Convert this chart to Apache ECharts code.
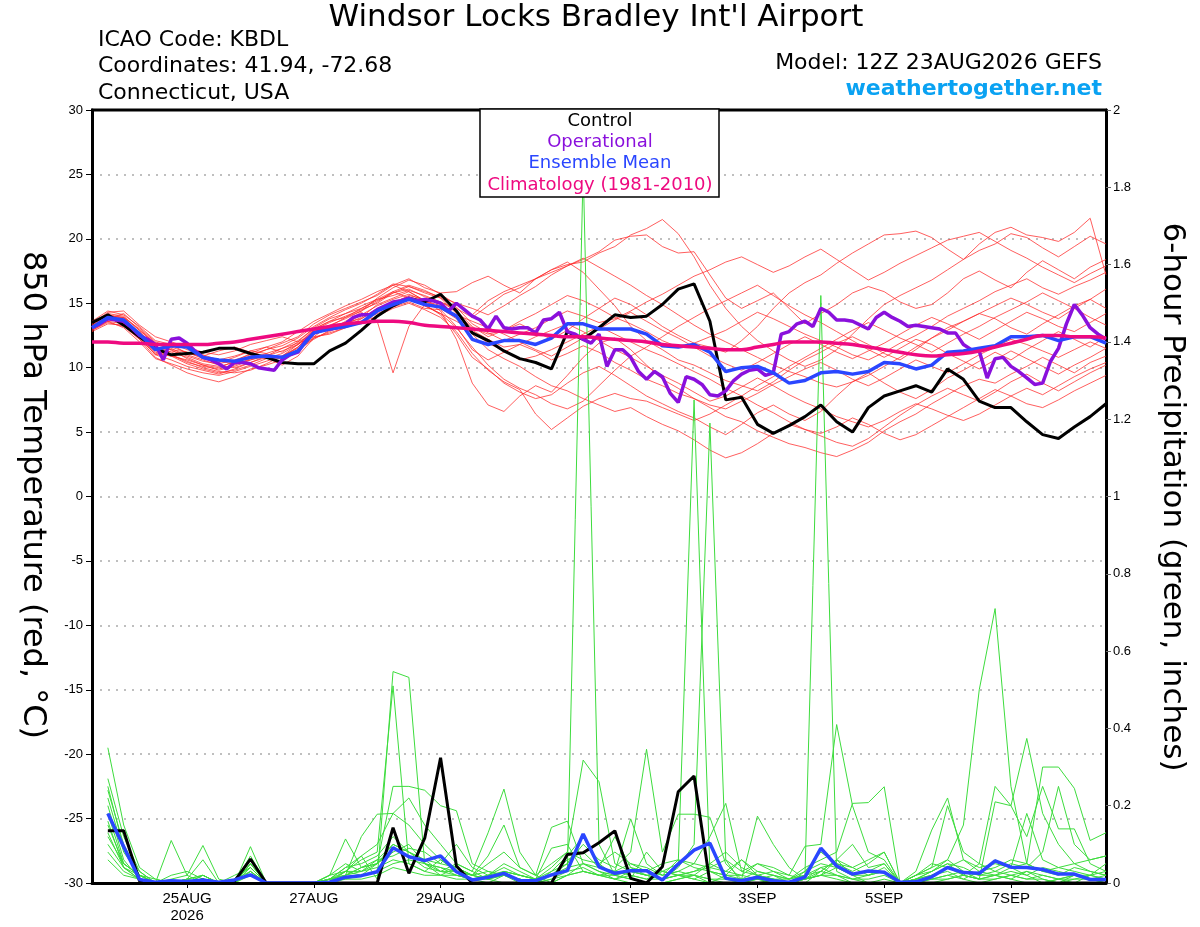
<!DOCTYPE html>
<html><head><meta charset="utf-8">
<script src="https://cdn.jsdelivr.net/npm/echarts@6/dist/echarts.min.js"></script>
<style>html,body{margin:0;padding:0;background:#fff}#c{width:1200px;height:927px}</style>
</head><body><div id="c"></div>
<script>
// ---- time axis (hours after 12Z 23AUG2026) ----
const tickHours = [36, 84, 132, 204, 252, 300, 348];
const tickLabels = ['25AUG\n2026', '27AUG', '29AUG', '1SEP', '3SEP', '5SEP', '7SEP'];
const tempTicks = [-30, -25, -20, -15, -10, -5, 0, 5, 10, 15, 20, 25, 30];
const precipTicks = [0, 0.2, 0.4, 0.6, 0.8, 1, 1.2, 1.4, 1.6, 1.8, 2];

// ---- 850 hPa temperature, 6-hourly (65 values) ----
const controlTemp = [13.5,14.1,13.3,12.4,11.5,11.0,11.1,11.2,11.5,11.5,
11.1,10.8,10.4,10.3,10.3,11.3,11.9,12.9,14.0,14.8,
15.4,15.1,15.7,14.4,12.7,12.1,11.3,10.7,10.4,9.9,
12.8,12.2,13.1,14.1,13.9,14.0,14.9,16.1,16.5,13.6,
7.5,7.7,5.6,4.9,5.5,6.2,7.1,5.8,5.0,6.9,
7.8,8.2,8.6,8.1,9.9,9.1,7.4,6.9,6.9,5.8,
4.8,4.5,5.4,6.2,7.2];
const meanTemp = [13.1,13.9,13.7,12.6,11.4,11.7,11.6,10.8,10.6,10.5,
10.8,10.9,10.8,11.3,12.7,13.0,13.2,13.5,14.4,14.9,
15.3,14.9,14.7,14.0,12.2,11.8,12.1,12.1,11.8,12.3,
13.4,13.4,13.0,13.0,13.0,12.6,11.7,11.6,11.8,11.2,
9.7,10.0,10.1,9.6,8.8,9.0,9.6,9.7,9.5,9.7,
10.4,10.3,9.9,10.2,11.2,11.3,11.5,11.7,12.4,12.4,
12.5,12.1,12.4,12.4,11.9];
const climoTemp = [12.0,12.0,11.9,11.9,11.8,11.8,11.8,11.8,11.9,12.0,
12.2,12.4,12.6,12.8,13.0,13.2,13.4,13.5,13.6,13.6,
13.5,13.3,13.2,13.1,13.0,12.9,12.8,12.7,12.6,12.5,
12.4,12.4,12.3,12.2,12.1,12.0,11.8,11.7,11.6,11.5,
11.4,11.4,11.6,11.8,12.0,12.0,12.0,11.9,11.8,11.6,
11.4,11.2,11.0,10.9,11.0,11.1,11.3,11.6,11.9,12.2,
12.5,12.5,12.4,12.4,12.3];
// operational run, 3-hourly (129 values)
const operTemp = [13.1,13.4,13.8,13.7,13.6,13.1,12.5,12.2,11.8,10.6,
12.2,12.3,11.9,11.3,10.8,10.6,10.3,9.9,10.4,10.4,
10.3,10.0,9.9,9.8,10.6,11.0,11.2,12.1,12.7,12.9,
13.0,13.1,13.4,13.9,14.1,14.1,14.5,14.8,15.1,15.2,
15.4,15.2,15.3,15.2,15.0,14.4,15.0,14.5,14.0,13.7,
13.0,14.0,13.1,13.0,13.1,13.1,12.7,13.7,13.8,14.3,
12.8,12.6,12.2,11.9,12.6,10.1,11.4,11.4,10.8,9.7,
9.1,9.7,9.3,8.0,7.3,9.3,9.1,8.7,7.9,7.8,
8.2,9.0,9.5,9.8,9.9,9.4,9.6,12.6,12.8,13.4,
13.6,13.2,14.6,14.3,13.7,13.7,13.6,13.3,13.0,13.9,
14.3,13.9,13.6,13.2,13.3,13.2,13.1,13.0,12.7,12.7,
11.8,11.4,11.3,9.2,10.7,10.8,10.1,9.7,9.2,8.7,
8.8,10.5,11.5,13.4,14.9,14.1,13.1,12.6,12.2];
// ensemble members, 6-hourly
const tempMembers = [
[13.4,14.2,14.0,12.9,11.8,11.9,11.4,11.0,10.6,10.9,11.3,11.6,11.2,12.0,13.1,13.8,14.2,14.6,15.2,15.8,16.1,15.5,15.1,14.6,13.9,14.8,15.7,16.2,16.9,17.4,17.9,18.4,19.0,19.9,20.2,20.3,19.4,18.9,19.0,17.2,15.4,14.6,15.2,15.8,14.6,13.4,14.2,14.9,15.8,16.3,15.9,15.1,14.6,14.9,15.8,16.9,17.5,16.8,16.2,17.4,18.3,17.6,16.9,17.8,18.4],
[13.0,13.7,13.9,12.5,11.0,10.6,10.1,9.8,9.5,9.9,10.4,10.8,10.2,10.9,12.3,12.8,13.4,13.9,14.9,15.4,15.9,15.2,14.4,12.2,8.8,7.1,6.6,7.8,8.6,8.1,9.4,10.8,11.9,12.3,11.4,10.2,9.1,8.4,7.6,6.9,6.2,5.8,5.1,4.6,4.1,3.8,3.4,3.1,3.6,4.2,5.1,5.8,6.4,7.2,7.9,8.6,9.1,8.8,9.5,10.1,10.8,10.2,9.6,10.4,10.9],
[13.6,14.4,14.1,13.2,12.1,11.8,11.1,10.9,11.3,11.6,11.2,10.7,10.9,11.8,13.0,13.6,13.9,14.4,15.1,15.9,16.4,16.0,15.4,14.2,13.1,12.6,12.9,13.4,12.8,12.2,12.9,13.8,14.6,15.4,14.9,14.1,13.2,12.5,11.9,11.6,11.2,12.1,13.2,14.6,15.8,16.6,17.2,18.1,18.9,19.6,20.3,20.4,20.6,20.1,19.2,18.4,19.6,20.5,20.9,20.3,20.1,19.8,20.5,21.6,17.2],
[12.9,13.5,13.2,12.2,10.8,10.2,9.6,9.2,8.9,9.3,9.9,10.2,10.6,11.4,12.2,12.9,13.6,14.3,13.6,9.6,13.2,14.9,14.1,12.6,10.8,9.9,8.8,8.1,7.6,7.9,8.8,9.6,10.1,9.4,8.6,7.8,7.2,6.6,6.1,5.4,4.8,5.6,6.5,7.1,6.4,5.9,6.6,7.8,8.9,9.6,8.8,8.1,7.6,8.3,9.2,9.8,10.5,11.2,10.6,11.4,12.1,12.8,12.2,11.6,12.4],
[13.2,14.0,13.6,12.8,11.6,11.2,10.8,10.3,10.1,10.4,10.9,11.4,11.9,12.4,13.4,14.1,14.6,15.1,15.6,16.4,16.9,16.2,15.8,15.9,16.6,17.1,16.4,15.8,16.9,17.6,18.2,17.4,16.1,14.8,13.2,12.1,11.4,10.6,10.2,9.6,9.0,8.6,8.2,8.9,9.8,10.6,11.2,11.9,12.4,11.8,11.1,10.6,11.4,12.3,13.1,13.6,14.2,13.8,13.1,12.6,13.4,14.1,14.8,15.3,14.6],
[13.5,14.1,13.8,12.7,11.4,11.0,10.5,10.0,9.7,9.6,9.8,10.3,10.9,11.6,12.8,13.2,13.5,13.8,14.6,15.1,15.5,14.8,14.2,13.1,11.6,10.2,9.1,8.4,7.9,7.2,6.8,7.4,8.6,9.8,10.9,11.6,12.4,13.2,13.9,14.6,15.2,15.8,16.4,15.6,14.8,14.1,13.5,12.8,12.1,11.4,10.8,11.5,12.2,11.8,11.1,10.5,9.9,10.6,11.3,10.7,10.1,9.5,10.2,10.8,11.5],
[13.1,13.8,14.2,13.1,12.0,11.6,11.2,10.7,10.4,10.8,11.3,11.1,10.6,11.2,12.4,13.3,13.8,14.4,15.4,16.2,16.8,16.4,15.7,14.9,14.1,15.2,15.9,16.4,16.9,17.6,18.0,18.2,18.9,19.4,20.3,20.8,21.5,20.4,18.6,16.4,14.6,13.2,12.1,11.3,10.6,10.1,10.6,11.4,12.6,13.8,14.9,15.6,16.2,16.8,17.6,18.4,19.1,19.6,20.4,20.1,19.3,18.6,19.4,20.2,19.6],
[13.3,13.9,13.5,12.4,11.2,10.9,10.6,10.2,9.8,10.1,10.6,10.9,11.3,11.8,12.6,13.0,13.4,14.1,14.8,15.3,15.7,15.2,14.8,14.0,12.6,11.4,10.7,10.1,9.3,8.6,8.2,7.6,7.1,6.6,6.9,6.2,5.6,5.1,4.4,3.6,3.0,3.4,4.1,4.9,5.6,5.2,4.7,4.2,3.9,4.5,5.4,6.3,7.1,7.8,8.4,7.9,7.4,8.1,8.9,9.5,8.8,8.2,8.9,9.6,10.2],
[13.0,13.6,13.4,12.3,11.0,11.3,11.0,10.6,10.2,10.0,10.4,10.9,11.5,12.1,13.0,13.6,14.2,14.8,15.3,15.6,16.0,15.6,15.1,14.4,13.2,12.4,12.9,13.6,14.2,14.9,15.6,15.2,14.6,13.9,13.4,12.8,12.1,11.6,11.9,12.4,12.9,13.6,14.3,13.8,13.2,12.6,12.1,11.6,11.0,10.6,11.2,11.9,12.5,13.2,14.0,14.6,15.2,15.9,16.4,16.9,16.2,15.7,16.3,16.8,17.4],
[13.4,14.3,14.4,13.3,12.4,12.0,11.6,11.2,11.0,11.3,11.8,12.1,12.4,12.0,12.6,13.2,13.9,14.6,15.3,15.9,15.4,14.8,14.2,13.6,12.9,12.2,11.6,11.8,12.4,12.9,13.4,12.8,12.1,11.4,10.8,10.1,9.4,8.8,8.1,7.4,7.8,8.5,9.2,8.6,7.9,7.3,6.8,6.2,5.8,5.4,5.9,6.6,7.2,6.8,6.3,5.9,6.4,7.1,7.8,8.4,7.9,8.6,9.3,9.9,10.4],
[13.2,13.9,13.7,12.6,11.5,11.4,11.2,10.8,10.5,10.3,10.6,11.0,10.8,11.6,12.9,13.5,14.0,14.5,15.0,15.8,16.3,15.9,15.5,15.0,14.6,14.1,14.8,15.6,16.3,17.2,17.9,18.5,17.8,17.1,16.4,15.6,14.9,14.1,13.3,12.6,12.0,11.4,10.8,10.2,9.7,9.3,8.8,8.5,8.9,9.4,10.1,10.8,11.6,12.3,12.9,13.6,14.2,14.8,15.4,14.9,14.3,13.8,14.6,15.3,16.1],
[12.8,13.4,13.3,12.2,11.1,10.9,10.3,9.9,9.6,9.8,10.2,10.7,11.1,11.8,12.9,13.1,13.2,13.6,14.2,14.7,15.1,14.6,14.5,13.2,11.4,10.6,11.2,11.8,11.3,10.6,11.1,11.7,11.2,10.4,9.8,9.1,8.6,8.0,7.6,7.1,6.8,7.4,8.0,8.7,9.3,9.9,10.4,9.8,9.1,8.6,9.2,9.9,10.6,10.1,9.6,10.3,11.0,11.6,12.2,11.8,11.3,10.8,11.4,12.0,11.5],
[13.5,14.0,13.9,12.9,11.9,11.5,10.9,10.5,10.3,10.6,11.0,11.4,11.7,12.3,13.2,13.9,14.5,15.0,15.7,16.5,16.3,15.8,15.4,14.7,13.4,12.7,12.1,12.6,13.1,13.8,14.4,14.0,13.5,13.8,14.4,15.1,15.7,16.4,17.1,17.6,18.2,18.6,18.0,17.4,17.9,18.6,19.2,18.4,17.6,16.8,17.4,18.1,18.7,19.3,19.9,20.2,20.5,19.8,19.1,18.5,17.8,17.2,16.6,17.3,17.9],
[13.1,13.8,13.6,12.6,11.3,11.0,10.4,10.1,9.9,10.2,10.7,11.1,11.5,11.9,12.4,12.6,13.1,13.8,14.5,15.0,15.6,15.3,14.6,13.8,12.8,11.9,11.3,10.6,10.9,11.4,12.0,12.6,13.2,12.6,12.0,11.4,10.9,10.3,9.7,9.1,8.4,7.8,7.1,6.5,5.8,5.2,4.9,5.4,6.1,5.6,4.9,4.4,4.8,5.5,6.2,6.9,7.6,8.3,7.8,7.2,6.9,7.5,8.2,8.8,9.4],
[13.3,14.1,13.9,13.0,11.9,11.4,10.7,10.2,10.0,10.5,11.1,11.6,12.0,12.8,13.6,14.2,14.8,15.3,15.9,16.4,15.9,15.2,14.6,14.1,13.6,13.1,12.6,12.0,11.4,10.9,11.6,12.3,13.0,13.7,14.3,13.6,12.9,12.3,11.6,10.9,10.3,9.8,10.4,11.1,11.8,12.4,11.8,11.2,10.7,11.3,11.9,12.6,13.3,13.9,13.4,12.8,12.2,12.9,13.6,14.3,13.8,13.2,12.8,13.5,14.2],
[12.9,13.6,13.1,12.0,10.7,10.3,9.9,9.6,9.4,9.7,10.1,10.5,10.9,11.5,12.3,12.7,13.1,13.5,14.0,14.6,15.0,14.5,13.9,12.8,11.1,9.8,8.9,8.3,6.4,5.2,6.1,7.0,7.6,8.0,7.6,7.4,6.9,6.4,5.9,6.4,7.1,7.8,8.6,9.3,10.1,10.8,11.5,12.2,12.9,13.5,12.9,12.3,11.8,11.2,11.9,12.6,13.2,13.9,14.5,15.1,15.8,15.2,14.6,13.9,13.3]
];

// ---- 6-hour precipitation (inches), steps 1..64 ----
const controlPrecip = [0.135,0.135,0.005,0,0,0,0.008,0,
0.005,0.062,0,0,0,0,0,0,
0,0,0.143,0.025,0.116,0.324,0.044,0,
0,0,0,0,0,0.074,0.078,0.104,
0.135,0.012,0,0.042,0.236,0.277,0,0,
0,0,0,0,0,0,0,0,
0,0,0,0,0,0,0,0,
0,0,0,0,0,0,0,0];
const meanPrecip = [0.18,0.094,0.009,0.002,0.006,0.004,0.008,0.002,
0.008,0.021,0,0,0,0,0.002,0.015,
0.019,0.029,0.091,0.068,0.058,0.07,0.029,0.008,
0.015,0.025,0.006,0.006,0.021,0.032,0.127,0.042,
0.025,0.032,0.032,0.008,0.049,0.085,0.103,0.012,
0.006,0.015,0.006,0.002,0.015,0.09,0.044,0.023,
0.031,0.028,0.002,0.003,0.016,0.04,0.027,0.025,
0.057,0.041,0.04,0.035,0.023,0.023,0.009,0.009];
const precipMembers = [
[0.35,0.15,0.04,0.01,0,0,0.02,0, 0,0.03,0,0,0,0,0.01,0.02, 0.04,0.05,0.10,0.08,0.05,0.03,0.02,0.01, 0,0.02,0.01,0,0.01,0.03,1.85,0.10, 0.02,0.01,0,0,0.01,0.02,0.01,0, 0,0.01,0,0,0.01,0.02,0.01,0, 0,0,0,0,0.01,0.02,0.01,0.03, 0.02,0.01,0,0,0.01,0.02,0.01,0],
[0.27,0.12,0.03,0,0,0.01,0,0, 0.01,0.04,0,0,0,0,0,0.03, 0.07,0.01,0.547,0.532,0.05,0.02,0.04,0.02, 0.01,0,0,0,0,0.02,0.05,0.03, 0.01,0,0,0,0.01,0.02,0,0, 0,0,0.01,0,0,0.03,0.06,0.02, 0,0,0,0,0,0.01,0.02,0.05, 0.03,0.02,0.01,0.01,0,0.02,0.01,0.01],
[0.24,0.10,0.02,0,0,0,0.01,0, 0,0.05,0,0,0,0,0.02,0.114, 0.04,0.05,0.25,0.25,0.24,0.20,0.187,0.05, 0.03,0.02,0,0,0.02,0.05,0.12,0.04, 0.03,0.02,0.01,0.03,0.05,1.25,0.03,0.01, 0,0.02,0.01,0,0.02,0.04,0.02,0.01, 0,0,0,0.01,0.03,0.05,0.02,0.01, 0.02,0.04,0.02,0,0.01,0.02,0.01,0],
[0.22,0.08,0.02,0,0,0,0,0, 0,0.06,0,0,0,0,0.01,0.02, 0.12,0.178,0.18,0.22,0.15,0.10,0.05,0.03, 0.13,0.243,0.08,0.02,0,0.02,0.03,0.02, 0.01,0.03,0.02,0.01,0.04,0.10,1.19,0.06, 0,0.01,0,0,0.01,0.03,0.02,0, 0,0.01,0,0,0.02,0.03,0.01,0, 0.01,0.02,0.03,0.01,0,0.01,0.02,0.01],
[0.20,0.06,0.01,0,0.11,0.02,0,0, 0.01,0.03,0,0,0,0,0.01,0.04, 0.07,0.10,0.18,0.15,0.10,0.06,0.03,0.02, 0.07,0.15,0.04,0.02,0.144,0.16,0.05,0.03, 0.02,0.01,0.08,0.03,0.02,0.01,0,0.02, 0.01,0.03,0.02,0.01,0.02,1.52,0.03,0.01, 0.02,0.04,0,0.01,0.02,0.04,0.03,0.01, 0.02,0.01,0.03,0.02,0.01,0,0.02,0.01],
[0.18,0.05,0.02,0,0.01,0.02,0.097,0.01, 0,0.07,0,0,0,0,0,0.02, 0.04,0.06,0.10,0.08,0.06,0.05,0.10,0.04, 0.02,0.05,0.03,0.01,0.09,0.10,0.03,0.02, 0.03,0.166,0.05,0.02,0.03,0.02,0.05,0.03, 0.06,0.02,0.01,0,0.03,0.05,0.04,0.02, 0.03,0.05,0,0.01,0.03,0.06,0.15,0.50, 0.71,0.25,0.05,0.03,0.02,0.04,0.03,0.02],
[0.16,0.04,0.01,0,0,0.01,0.06,0, 0,0.094,0,0,0,0,0.005,0.03, 0.03,0.05,0.08,0.10,0.05,0.04,0.03,0.02, 0.01,0.03,0.02,0.01,0.03,0.05,0.10,0.06, 0.04,0.08,0.346,0.08,0.178,0.178,0.17,0.05, 0.01,0.173,0.10,0.04,0.01,0.02,0.06,0.04, 0.02,0.03,0,0.02,0.05,0.04,0.02,0.01, 0.21,0.20,0.374,0.18,0.10,0.05,0.03,0.02],
[0.15,0.05,0.02,0.01,0,0,0.02,0, 0,0.05,0,0,0,0,0.01,0.04, 0.05,0.07,0.12,0.08,0.06,0.03,0.05,0.03, 0.01,0.02,0.01,0,0.03,0.07,0.12,0.05, 0.08,0.05,0.03,0.02,0.06,0.05,0.12,0.206, 0.03,0.05,0.04,0.02,0.095,0.10,0.41,0.20, 0.08,0.06,0,0.02,0.04,0.20,0.08,0.05, 0.25,0.20,0.12,0.25,0.14,0.14,0.05,0.03],
[0.13,0.04,0.01,0,0,0.01,0.02,0, 0.02,0.04,0,0,0,0,0.02,0.05, 0.03,0.04,0.06,0.05,0.03,0.02,0.02,0.01, 0.02,0.04,0.02,0.01,0.04,0.08,0.318,0.262, 0.05,0.03,0.02,0.01,0.02,0.03,0.05,0.08, 0.04,0.02,0.03,0.01,0.04,0.06,0.08,0.206, 0.208,0.249,0,0.03,0.137,0.22,0.06,0.03, 0.04,0.06,0.05,0.30,0.30,0.245,0.11,0.13],
[0.12,0.05,0.02,0,0,0.01,0.02,0, 0,0.05,0,0,0,0,0.01,0.03, 0.02,0.05,0.09,0.07,0.04,0.03,0.03,0.02, 0.01,0.03,0.02,0.01,0.02,0.06,0.08,0.04, 0.03,0.05,0.04,0.02,0.03,0.05,0.04,0.03, 0.02,0.05,0.03,0.02,0.01,0.04,0.05,0.03, 0.05,0.08,0,0.02,0.04,0.06,0.03,0.02, 0.03,0.05,0.04,0.08,0.25,0.10,0.06,0.07],
[0.10,0.04,0.02,0,0,0,0.01,0, 0,0.04,0,0,0,0,0.01,0.02, 0.03,0.06,0.07,0.09,0.08,0.05,0.04,0.02, 0.03,0.02,0.01,0,0.02,0.04,0.05,0.04, 0.12,0.04,0.02,0.01,0.02,0.03,0.04,0.06, 0.03,0.02,0.01,0.01,0.02,0.03,0.06,0.10, 0.04,0.05,0,0.01,0.02,0.04,0.06,0.04, 0.05,0.04,0.18,0.06,0.04,0.03,0.02,0.05],
[0.08,0.03,0.01,0,0,0,0.01,0, 0,0.03,0,0,0,0,0.01,0.01, 0.02,0.03,0.05,0.06,0.05,0.04,0.02,0.01, 0.02,0.03,0.02,0.01,0.02,0.03,0.04,0.02, 0.02,0.03,0.02,0.03,0.02,0.01,0.03,0.02, 0.02,0.01,0.02,0,0.01,0.02,0.04,0.02, 0.02,0.03,0,0.01,0.01,0.02,0.03,0.02, 0.02,0.03,0.02,0.04,0.03,0.02,0.02,0.03],
[0.06,0.02,0.01,0,0,0,0,0, 0,0.02,0,0,0,0,0,0.01, 0.01,0.02,0.04,0.03,0.02,0.02,0.01,0.01, 0.01,0.02,0.01,0,0.01,0.02,0.03,0.02, 0.01,0.02,0.01,0.01,0.02,0.02,0.01,0.01, 0.01,0.01,0.01,0,0.01,0.02,0.02,0.01, 0.01,0.02,0,0,0.01,0.01,0.02,0.01, 0.01,0.02,0.01,0.02,0.01,0.01,0.01,0.02],
[0.25,0.09,0.03,0,0.02,0.03,0.01,0, 0.01,0.06,0,0,0,0,0.02,0.03, 0.06,0.08,0.51,0.05,0.03,0.06,0.04,0.02, 0.05,0.08,0.04,0.02,0.05,0.08,0.06,0.05, 0.02,0.04,0.03,0.05,0.06,0.04,0.03,0.02, 0.06,0.03,0.02,0.01,0.03,0.08,0.05,0.04, 0.06,0.08,0,0.02,0.03,0.05,0.04,0.02, 0.06,0.04,0.05,0.03,0.04,0.05,0.06,0.07]
];

// ---- colours ----
const C = {red:'rgba(255,40,40,0.75)', green:'#3ddc3d', control:'#000000', oper:'#8a10dc', mean:'#2a46ff', climo:'#ee0a80', site:'#0aa2f2'};

const six = (arr, off) => arr.map((v, i) => [(i + off) * 6, v]);
const series = [];
tempMembers.forEach(m => series.push({type:'line', data: six(m, 0), yAxisIndex:0, showSymbol:false, silent:true, z:2,
  lineStyle:{color:C.red, width:1}}));
precipMembers.forEach(m => series.push({type:'line', data: six(m, 1), yAxisIndex:1, showSymbol:false, silent:true, z:3,
  lineStyle:{color:C.green, width:1}}));
series.push({type:'line', data: six(controlPrecip, 1), yAxisIndex:1, showSymbol:false, z:5, lineStyle:{color:C.control, width:3}});
series.push({type:'line', data: six(meanPrecip, 1), yAxisIndex:1, showSymbol:false, z:6, lineStyle:{color:C.mean, width:3.5}});
series.push({type:'line', data: six(controlTemp, 0), yAxisIndex:0, showSymbol:false, z:5, lineStyle:{color:C.control, width:3}});
series.push({type:'line', data: operTemp.map((v, j) => [j * 3, v]), yAxisIndex:0, showSymbol:false, z:6, lineStyle:{color:C.oper, width:3.5}});
series.push({type:'line', data: six(meanTemp, 0), yAxisIndex:0, showSymbol:false, z:7, lineStyle:{color:C.mean, width:3.5}});
series.push({type:'line', data: six(climoTemp, 0), yAxisIndex:0, showSymbol:false, smooth:true, z:8, lineStyle:{color:C.climo, width:3.5}});

const FONT = '"Liberation Sans", Arial, sans-serif';
const WIDE = '"DejaVu Sans", "Liberation Sans", sans-serif';
const chart = echarts.init(document.getElementById('c'), null, {renderer:'canvas'});
chart.setOption({
  animation:false,
  backgroundColor:'#ffffff',
  grid:{left:92, right:94, top:110, bottom:44, show:false, containLabel:false},
  xAxis:{type:'value', min:0, max:384, z:10,
    axisLine:{show:true, onZero:false, lineStyle:{color:'#000', width:3}},
    axisTick:{show:true, customValues:tickHours, length:5, lineStyle:{color:'#000', width:1}},
    axisLabel:{customValues:tickHours, formatter:v => tickLabels[tickHours.indexOf(v)] || '', color:'#000', fontFamily:FONT, fontSize:15, lineHeight:17, margin:7},
    splitLine:{show:false}},
  yAxis:[
    {type:'value', min:-30, max:30, interval:5, position:'left',
      axisLine:{show:true, onZero:false, lineStyle:{color:'#000', width:3}},
      axisTick:{show:true, length:6, lineStyle:{color:'#000', width:1}},
      axisLabel:{color:'#000', fontFamily:FONT, fontSize:13, margin:9},
      splitLine:{show:true, lineStyle:{color:'#aaaaaa', width:1.5, type:[2,6]}}},
    {type:'value', min:0, max:2, interval:0.2, position:'right',
      axisLine:{show:true, onZero:false, lineStyle:{color:'#000', width:3}},
      axisTick:{show:true, length:5, lineStyle:{color:'#666', width:1}},
      axisLabel:{color:'#000', fontFamily:FONT, fontSize:13, margin:7, formatter:v => String(+v.toFixed(1))},
      splitLine:{show:false}}
  ],
  series: series,
  graphic:[
    {type:'line', z:99, shape:{x1:91, y1:110, x2:1107, y2:110}, style:{stroke:'#000', lineWidth:3}},
    {type:'text', x:596, y:18, z:100, style:{text:"Windsor Locks Bradley Int'l Airport", font:'31px '+WIDE, fill:'#000', align:'center', verticalAlign:'middle'}},
    {type:'text', x:98, y:40, z:100, style:{text:'ICAO Code: KBDL', font:'22px '+WIDE, fill:'#000', align:'left', verticalAlign:'middle'}},
    {type:'text', x:98, y:66, z:100, style:{text:'Coordinates: 41.94, -72.68', font:'22px '+WIDE, fill:'#000', align:'left', verticalAlign:'middle'}},
    {type:'text', x:98, y:93, z:100, style:{text:'Connecticut, USA', font:'22px '+WIDE, fill:'#000', align:'left', verticalAlign:'middle'}},
    {type:'text', x:1102, y:63, z:100, style:{text:'Model: 12Z 23AUG2026 GEFS', font:'22px '+WIDE, fill:'#000', align:'right', verticalAlign:'middle'}},
    {type:'text', x:1102, y:89, z:100, style:{text:'weathertogether.net', font:'bold 22px '+WIDE, fill:C.site, align:'right', verticalAlign:'middle'}},
    {type:'text', x:32, y:495, rotation:-Math.PI/2, z:100, style:{text:'850 hPa Temperature (red, °C)', font:'32px '+WIDE, fill:'#000', align:'center', verticalAlign:'middle'}},
    {type:'text', x:1172, y:497, rotation:-Math.PI/2, z:100, style:{text:'6-hour Precipitation (green, inches)', font:'31px '+WIDE, fill:'#000', align:'center', verticalAlign:'middle'}},
    {type:'rect', z:100, shape:{x:480, y:109, width:239, height:88}, style:{fill:'#fff', stroke:'#000', lineWidth:1.5}},
    {type:'text', x:600, y:121, z:101, style:{text:'Control', font:'18px '+WIDE, fill:C.control, align:'center', verticalAlign:'middle'}},
    {type:'text', x:600, y:142, z:101, style:{text:'Operational', font:'18px '+WIDE, fill:C.oper, align:'center', verticalAlign:'middle'}},
    {type:'text', x:600, y:163, z:101, style:{text:'Ensemble Mean', font:'18px '+WIDE, fill:C.mean, align:'center', verticalAlign:'middle'}},
    {type:'text', x:600, y:185, z:101, style:{text:'Climatology (1981-2010)', font:'18px '+WIDE, fill:C.climo, align:'center', verticalAlign:'middle'}}
  ]
});
</script></body></html>
